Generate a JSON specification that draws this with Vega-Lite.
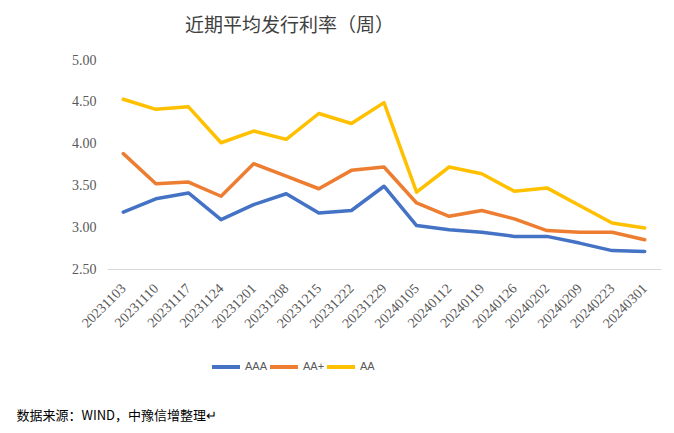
{
  "$schema": "https://vega.github.io/schema/vega-lite/v6.json",
  "width": 554,
  "height": 209,
  "autosize": {"type": "none"},
  "padding": {"left": 107, "top": 60, "right": 13, "bottom": 164},
  "background": "white",
  "title": {
    "text": "近期平均发行利率（周）",
    "font": "Noto Sans CJK SC",
    "fontSize": 19,
    "fontWeight": "normal",
    "color": "#404040",
    "anchor": "start",
    "frame": "group",
    "dx": 78,
    "offset": 17
  },
  "data": {
    "values": [
      {"date": "20231103", "rating": "AAA", "rate": 3.18},
      {"date": "20231110", "rating": "AAA", "rate": 3.34},
      {"date": "20231117", "rating": "AAA", "rate": 3.41},
      {"date": "20231124", "rating": "AAA", "rate": 3.09},
      {"date": "20231201", "rating": "AAA", "rate": 3.27},
      {"date": "20231208", "rating": "AAA", "rate": 3.40},
      {"date": "20231215", "rating": "AAA", "rate": 3.17},
      {"date": "20231222", "rating": "AAA", "rate": 3.20},
      {"date": "20231229", "rating": "AAA", "rate": 3.49},
      {"date": "20240105", "rating": "AAA", "rate": 3.02},
      {"date": "20240112", "rating": "AAA", "rate": 2.97},
      {"date": "20240119", "rating": "AAA", "rate": 2.94},
      {"date": "20240126", "rating": "AAA", "rate": 2.89},
      {"date": "20240202", "rating": "AAA", "rate": 2.89},
      {"date": "20240209", "rating": "AAA", "rate": 2.81},
      {"date": "20240223", "rating": "AAA", "rate": 2.72},
      {"date": "20240301", "rating": "AAA", "rate": 2.71},
      {"date": "20231103", "rating": "AA+", "rate": 3.88},
      {"date": "20231110", "rating": "AA+", "rate": 3.52},
      {"date": "20231117", "rating": "AA+", "rate": 3.54},
      {"date": "20231124", "rating": "AA+", "rate": 3.37},
      {"date": "20231201", "rating": "AA+", "rate": 3.76},
      {"date": "20231208", "rating": "AA+", "rate": 3.61},
      {"date": "20231215", "rating": "AA+", "rate": 3.46},
      {"date": "20231222", "rating": "AA+", "rate": 3.68},
      {"date": "20231229", "rating": "AA+", "rate": 3.72},
      {"date": "20240105", "rating": "AA+", "rate": 3.29},
      {"date": "20240112", "rating": "AA+", "rate": 3.13},
      {"date": "20240119", "rating": "AA+", "rate": 3.20},
      {"date": "20240126", "rating": "AA+", "rate": 3.10},
      {"date": "20240202", "rating": "AA+", "rate": 2.96},
      {"date": "20240209", "rating": "AA+", "rate": 2.94},
      {"date": "20240223", "rating": "AA+", "rate": 2.94},
      {"date": "20240301", "rating": "AA+", "rate": 2.85},
      {"date": "20231103", "rating": "AA", "rate": 4.53},
      {"date": "20231110", "rating": "AA", "rate": 4.41},
      {"date": "20231117", "rating": "AA", "rate": 4.44},
      {"date": "20231124", "rating": "AA", "rate": 4.01},
      {"date": "20231201", "rating": "AA", "rate": 4.15},
      {"date": "20231208", "rating": "AA", "rate": 4.05},
      {"date": "20231215", "rating": "AA", "rate": 4.36},
      {"date": "20231222", "rating": "AA", "rate": 4.24},
      {"date": "20231229", "rating": "AA", "rate": 4.49},
      {"date": "20240105", "rating": "AA", "rate": 3.42},
      {"date": "20240112", "rating": "AA", "rate": 3.72},
      {"date": "20240119", "rating": "AA", "rate": 3.64},
      {"date": "20240126", "rating": "AA", "rate": 3.43},
      {"date": "20240202", "rating": "AA", "rate": 3.47},
      {"date": "20240209", "rating": "AA", "rate": 3.26},
      {"date": "20240223", "rating": "AA", "rate": 3.05},
      {"date": "20240301", "rating": "AA", "rate": 2.99}
    ]
  },
  "mark": {"type": "line", "strokeWidth": 3.5, "strokeJoin": "round", "strokeCap": "round"},
  "encoding": {
    "x": {
      "field": "date",
      "type": "ordinal",
      "sort": "ascending",
      "scale": {"type": "point", "padding": 0.5},
      "axis": {
        "title": "数据来源：WIND，中豫信增整理↵",
        "titleFont": "Noto Sans CJK SC",
        "titleFontSize": 13,
        "titleFontWeight": "normal",
        "titleColor": "#000000",
        "titleAlign": "left",
        "titleAnchor": "start",
        "titleBaseline": "middle",
        "titleX": -91,
        "titleY": 146,
        "labelAngle": -45,
        "labelAlign": "right",
        "labelBaseline": "middle",
        "labelPadding": 17,
        "labelFont": "Liberation Serif",
        "labelFontSize": 14,
        "labelColor": "#595959",
        "labelOverlap": false,
        "ticks": false,
        "grid": false,
        "domainColor": "#d9d9d9",
        "domainWidth": 1
      }
    },
    "y": {
      "field": "rate",
      "type": "quantitative",
      "scale": {"domain": [2.5, 5], "nice": false, "zero": false},
      "axis": {
        "title": null,
        "values": [2.5, 3, 3.5, 4, 4.5, 5],
        "format": ".2f",
        "labelFont": "Liberation Serif",
        "labelFontSize": 14,
        "labelColor": "#595959",
        "labelPadding": 11,
        "ticks": false,
        "domain": false,
        "grid": false
      }
    },
    "color": {
      "field": "rating",
      "type": "nominal",
      "scale": {"domain": ["AAA", "AA+", "AA"], "range": ["#4472C4", "#ED7D31", "#FFC000"]},
      "legend": {
        "title": null,
        "orient": "none",
        "direction": "horizontal",
        "legendX": 103,
        "legendY": 291,
        "symbolType": "stroke",
        "symbolSize": 784,
        "symbolStrokeWidth": 4,
        "labelFont": "Liberation Sans",
        "labelFontSize": 11,
        "labelColor": "#595959",
        "labelOffset": 3,
        "columnPadding": -13
      }
    }
  },
  "config": {"view": {"stroke": null}}
}
